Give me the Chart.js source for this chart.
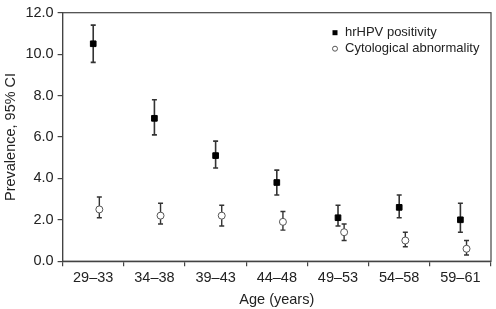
<!DOCTYPE html>
<html lang="en">
<head>
    <meta charset="UTF-8">
    <title>Prevalence by age</title>
    <script src="https://cdn.jsdelivr.net/npm/chart.js"></script>
    <style>
        body {
            margin: 0;
            background: #fff;
        }
        .chart-container {
            position: relative;
            width: 496px;
            height: 309px;
        }
    </style>
</head>
<body>
    <div class="chart-container">
        <canvas id="prevChart"></canvas>
    </div>

    <script>
        const ageGroups = ['29\u201333', '34\u201338', '39\u201343', '44\u201348', '49\u201353', '54\u201358', '59\u201361'];

        const hpvValues = [10.5, 6.9, 5.1, 3.8, 2.1, 2.6, 2.0];
        const hpvLow    = [9.6, 6.1, 4.5, 3.2, 1.7, 2.1, 1.4];
        const hpvHigh   = [11.4, 7.8, 5.8, 4.4, 2.7, 3.2, 2.8];

        const cytoValues = [2.5, 2.2, 2.2, 1.9, 1.4, 1.0, 0.6];
        const cytoLow    = [2.1, 1.8, 1.7, 1.5, 1.0, 0.7, 0.3];
        const cytoHigh   = [3.1, 2.8, 2.7, 2.4, 1.8, 1.4, 1.0];

        const yTicks = [0, 2, 4, 6, 8, 10, 12];

        const fontFamily = '"Liberation Sans", Arial, Helvetica, sans-serif';
        const axisColor = '#444';
        const textColor = '#222';

        // cytology points sit a little to the right of the category centre
        const cytoShift = 0.1;

        const toPoints = (vals, shift) => vals.map((v, i) => ({ x: i + shift, y: v }));

        const errorBars = {
            id: 'errorBars',
            beforeDatasetsDraw(chart) {
                const ctx = chart.ctx;
                const xs = chart.scales.xv;
                const ys = chart.scales.y;
                const sets = [
                    { low: hpvLow, high: hpvHigh, shift: 0, width: 1.6 },
                    { low: cytoLow, high: cytoHigh, shift: cytoShift, width: 1.4 }
                ];
                ctx.save();
                ctx.strokeStyle = '#333';
                sets.forEach(s => {
                    ctx.lineWidth = s.width;
                    s.low.forEach((lo, i) => {
                        const px = xs.getPixelForValue(i + s.shift);
                        const y1 = ys.getPixelForValue(lo);
                        const y2 = ys.getPixelForValue(s.high[i]);
                        ctx.beginPath();
                        ctx.moveTo(px, y1);
                        ctx.lineTo(px, y2);
                        ctx.moveTo(px - 2.5, y1);
                        ctx.lineTo(px + 2.5, y1);
                        ctx.moveTo(px - 2.5, y2);
                        ctx.lineTo(px + 2.5, y2);
                        ctx.stroke();
                    });
                });
                ctx.restore();
            }
        };

        const boxAndLegend = {
            id: 'boxAndLegend',
            afterDraw(chart) {
                const ctx = chart.ctx;
                const a = chart.chartArea;
                ctx.save();
                ctx.strokeStyle = axisColor;
                ctx.lineWidth = 1.2;
                ctx.strokeRect(a.left, a.top, a.right - a.left, a.bottom - a.top);

                const mx = a.right - 156;
                const tx = mx + 10;
                const rows = [a.top + 20, a.top + 36];
                ctx.font = '13px ' + fontFamily;
                ctx.fillStyle = textColor;
                ctx.textBaseline = 'middle';
                ctx.fillText(chart.data.datasets[0].label, tx, rows[0]);
                ctx.fillText(chart.data.datasets[1].label, tx, rows[1]);

                ctx.fillStyle = '#000';
                ctx.fillRect(mx - 2.5, rows[0] - 2.5, 5, 5);
                ctx.beginPath();
                ctx.arc(mx, rows[1], 2.5, 0, Math.PI * 2);
                ctx.fillStyle = '#fff';
                ctx.fill();
                ctx.strokeStyle = '#555';
                ctx.lineWidth = 1;
                ctx.stroke();
                ctx.restore();
            }
        };

        new Chart(document.getElementById('prevChart'), {
            type: 'scatter',
            data: {
                labels: ageGroups,
                datasets: [
                    {
                        label: 'hrHPV positivity',
                        data: toPoints(hpvValues, 0),
                        xAxisID: 'xv',
                        pointStyle: 'rect',
                        pointRadius: 4,
                        backgroundColor: '#000',
                        borderColor: '#000',
                        borderWidth: 1
                    },
                    {
                        label: 'Cytological abnormality',
                        data: toPoints(cytoValues, cytoShift),
                        xAxisID: 'xv',
                        pointStyle: 'circle',
                        pointRadius: 3.5,
                        backgroundColor: '#fff',
                        borderColor: '#555',
                        borderWidth: 1
                    }
                ]
            },
            options: {
                responsive: true,
                maintainAspectRatio: false,
                animation: false,
                layout: { padding: { top: 1, right: 3, left: 2, bottom: 0 } },
                plugins: {
                    legend: { display: false },
                    tooltip: { enabled: false }
                },
                scales: {
                    x: {
                        type: 'category',
                        labels: ageGroups,
                        offset: true,
                        position: 'bottom',
                        grid: {
                            offset: true,
                            drawOnChartArea: false,
                            tickLength: 5,
                            color: axisColor,
                            lineWidth: 1.2
                        },
                        border: { color: axisColor, width: 1.2 },
                        ticks: {
                            color: textColor,
                            font: { family: fontFamily, size: 14.5 },
                            padding: 3,
                            maxRotation: 0
                        },
                        title: {
                            display: true,
                            text: 'Age (years)',
                            color: textColor,
                            font: { family: fontFamily, size: 14.5 },
                            padding: { top: 2, bottom: 0 }
                        }
                    },
                    xv: {
                        type: 'linear',
                        display: false,
                        min: -0.5,
                        max: ageGroups.length - 0.5
                    },
                    y: {
                        min: 0,
                        max: 12,
                        afterBuildTicks(scale) {
                            scale.ticks = yTicks.map(v => ({ value: v }));
                        },
                        grid: {
                            drawOnChartArea: false,
                            tickLength: 5,
                            color: axisColor,
                            lineWidth: 1.2
                        },
                        border: { color: axisColor, width: 1.2 },
                        ticks: {
                            color: textColor,
                            font: { family: fontFamily, size: 14.5 },
                            padding: 4,
                            callback: v => v.toFixed(1)
                        },
                        title: {
                            display: true,
                            text: 'Prevalence, 95% CI',
                            color: textColor,
                            font: { family: fontFamily, size: 14.5 },
                            padding: { top: 0, bottom: 2 }
                        }
                    }
                }
            },
            plugins: [errorBars, boxAndLegend]
        });
    </script>
</body>
</html>
